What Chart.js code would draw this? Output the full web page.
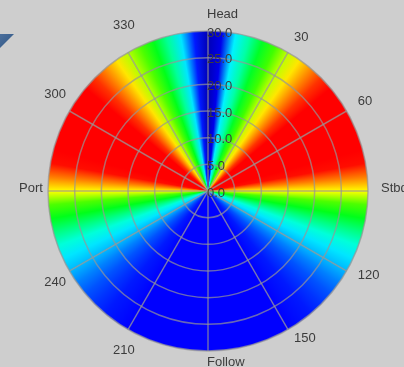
<!DOCTYPE html>
<html>
<head>
<meta charset="utf-8">
<script src="https://cdn.jsdelivr.net/npm/chart.js@4.4.1/dist/chart.umd.min.js"></script>
<style>
  html, body { margin: 0; padding: 0; background: #cecece; overflow: hidden; }
  #c { display: block; }
</style>
</head>
<body>
<canvas id="c" width="404" height="367"></canvas>
<script>
// Heading sectors shown around the rim (clockwise from the bow)
const headingLabels = ['Head', '30', '60', 'Stbd', '120', '150', 'Follow', '210', '240', 'Port', '300', '330'];
// Speed rings (knots) on the radial axis
const speedTicks = [0, 5, 10, 15, 20, 25, 30];
// Each sector spans the full speed range
const sectorSpeed = [30, 30, 30, 30, 30, 30, 30, 30, 30, 30, 30, 30];

// Normalised response by heading (deg), independent of speed
const headings = [
  0, 5, 10, 15, 20, 25, 30, 35, 40, 45, 50, 55,
  60, 65, 70, 75, 80, 85, 90, 95, 100, 105, 110, 115,
  120, 125, 130, 135, 140, 145, 150, 155, 160, 165, 170, 175,
  180, 185, 190, 195, 200, 205, 210, 215, 220, 225, 230, 235,
  240, 245, 250, 255, 260, 265, 270, 275, 280, 285, 290, 295,
  300, 305, 310, 315, 320, 325, 330, 335, 340, 345, 350, 355
];
const response = [
  0.03, 0.08, 0.29, 0.37, 0.47, 0.55, 0.65, 0.72, 0.79, 0.86, 0.91, 0.94,
  0.97, 0.98, 0.97, 0.94, 0.89, 0.80, 0.70, 0.56, 0.48, 0.40, 0.33, 0.28,
  0.245, 0.20, 0.165, 0.14, 0.12, 0.11, 0.10, 0.10, 0.10, 0.10, 0.10, 0.10,
  0.10, 0.10, 0.10, 0.10, 0.10, 0.10, 0.10, 0.11, 0.12, 0.14, 0.165, 0.20,
  0.245, 0.28, 0.33, 0.40, 0.48, 0.56, 0.70, 0.80, 0.89, 0.94, 0.97, 0.98,
  0.98, 0.96, 0.92, 0.86, 0.79, 0.72, 0.64, 0.56, 0.48, 0.38, 0.28, 0.12
];

// Rainbow colour scale: dark blue -> blue -> cyan -> green -> yellow -> red
const colourStops = [
  [0.00, [0, 0, 150]],
  [0.10, [0, 0, 255]],
  [0.30, [0, 255, 255]],
  [0.50, [0, 255, 0]],
  [0.70, [255, 255, 0]],
  [0.90, [255, 0, 0]],
  [1.00, [255, 0, 0]]
];

function colourFor(v) {
  v = Math.max(0, Math.min(1, v));
  for (let i = 1; i < colourStops.length; i++) {
    const [p1, c1] = colourStops[i];
    const [p0, c0] = colourStops[i - 1];
    if (v <= p1) {
      const t = (v - p0) / (p1 - p0 || 1);
      const c = c0.map((a, k) => Math.round(a + (c1[k] - a) * t));
      return 'rgb(' + c.join(',') + ')';
    }
  }
  return 'rgb(255,0,0)';
}

let cachedFill = null, cachedKey = '';
function headingFill(context) {
  const chart = context.chart;
  const r = chart.scales && chart.scales.r;
  if (!r || !isFinite(r.xCenter)) return colourFor(response[0]);
  const key = r.xCenter + ',' + r.yCenter;
  if (cachedFill && cachedKey === key) return cachedFill;
  const ctx = chart.ctx;
  const g = ctx.createConicGradient(-Math.PI / 2, r.xCenter, r.yCenter);
  headings.forEach((h, i) => g.addColorStop(h / 360, colourFor(response[i])));
  g.addColorStop(1, colourFor(response[0]));
  cachedFill = g; cachedKey = key;
  return g;
}

const FONT = '13px "Liberation Sans", Arial, sans-serif';
const TEXT = '#3c3c3c';

const backdrop = {
  id: 'backdrop',
  beforeDraw(chart) {
    const ctx = chart.ctx;
    ctx.save();
    ctx.fillStyle = '#cecece';
    ctx.fillRect(0, 0, chart.width, chart.height);
    // corner marker
    const g = ctx.createLinearGradient(0, 34, 14, 48);
    g.addColorStop(0, '#4b6f9c');
    g.addColorStop(1, '#2f5583');
    ctx.fillStyle = g;
    ctx.beginPath();
    ctx.moveTo(0, 34);
    ctx.lineTo(14, 34);
    ctx.lineTo(0, 48);
    ctx.closePath();
    ctx.fill();
    ctx.restore();
  }
};

const polarText = {
  id: 'polarText',
  afterDraw(chart) {
    const r = chart.scales.r;
    const ctx = chart.ctx;
    const R = r.drawingArea;
    const xc = r.xCenter, yc = r.yCenter;
    ctx.save();
    ctx.font = FONT;
    ctx.fillStyle = TEXT;
    ctx.textAlign = 'left';
    ctx.textBaseline = 'middle';
    // speed values up the bow line
    speedTicks.forEach(v => {
      const d = r.getDistanceFromCenterForValue(v);
      ctx.fillText(v.toFixed(1), xc - 1, yc - d + 2);
    });
    // heading names round the rim, text starting on the heading direction
    headingLabels.forEach((lab, i) => {
      const deg = i * 360 / headingLabels.length;
      const gap = deg <= 180 ? 14 : 28;
      const p = r.getPointPosition(i, R + gap);
      ctx.fillText(lab, p.x - 1, p.y - 3);
    });
    ctx.restore();
  }
};

new Chart(document.getElementById('c'), {
  type: 'polarArea',
  data: {
    labels: headingLabels,
    datasets: [{
      data: sectorSpeed,
      backgroundColor: headingFill,
      borderWidth: 0
    }]
  },
  options: {
    responsive: false,
    animation: false,
    layout: { padding: { left: 48, right: 36, top: 31, bottom: 16 } },
    plugins: { legend: { display: false }, tooltip: { enabled: false } },
    scales: {
      r: {
        min: 0,
        max: 30,
        ticks: { stepSize: 5, display: false },
        grid: { circular: true, color: 'rgba(150,150,150,0.7)', lineWidth: 1.5, z: 1 },
        angleLines: { display: true, color: 'rgba(150,150,150,0.7)', lineWidth: 1.5 },
        pointLabels: { display: false }
      }
    }
  },
  plugins: [backdrop, polarText]
});
</script>
</body>
</html>
